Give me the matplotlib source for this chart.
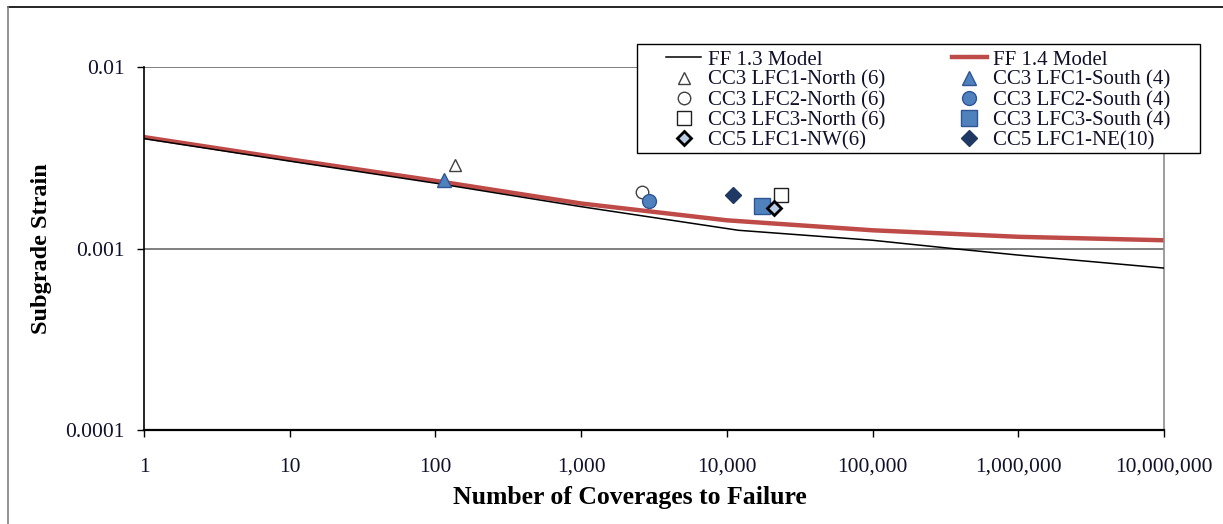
import matplotlib
matplotlib.use("Agg")
import matplotlib.pyplot as plt
from matplotlib.lines import Line2D
from matplotlib.patches import Rectangle
from matplotlib.ticker import FixedLocator, FuncFormatter, NullLocator

plt.rcParams['font.family'] = ['Liberation Serif', 'DejaVu Serif']

# ---- data ----
ff13_x = [1, 10, 100, 1000, 12000, 100000, 350000, 1000000, 10000000]
ff13_y = [0.00403, 0.00303, 0.00229, 0.00170, 0.00126, 0.00111, 0.00100, 0.00092, 0.00078]
ff14_x = [1, 10, 100, 1000, 10000, 100000, 1000000, 10000000]
ff14_y = [0.00411, 0.00310, 0.00236, 0.00177, 0.00143, 0.00126, 0.00116, 0.00111]

pts_labels = ["CC3 LFC1-North (6)", "CC3 LFC1-South (4)",
              "CC3 LFC2-North (6)", "CC3 LFC2-South (4)",
              "CC3 LFC3-North (6)", "CC3 LFC3-South (4)",
              "CC5 LFC1-NW(6)", "CC5 LFC1-NE(10)"]
pts_x = [137, 115, 2630, 2940, 23700, 17300, 20900, 11100]
pts_y = [0.00288, 0.00238, 0.00204, 0.00183, 0.00197, 0.00172, 0.00168, 0.00197]

xticks = [1, 10, 100, 1000, 10000, 100000, 1000000, 10000000]
yticks = [0.0001, 0.001, 0.01]

W, H = 1223, 524
fig = plt.figure(figsize=(W / 100, H / 100), dpi=100)
ax = fig.add_axes([144 / W, 1 - 430 / H, (1164 - 144) / W, (430 - 67) / H])

blue = '#4F81BD'
styles = [
    dict(marker='^', mfc='white', mec='#404040', ms=9, mew=1.0),
    dict(marker='^', mfc=blue, mec='#2F5597', ms=10, mew=1.0),
    dict(marker='o', mfc='white', mec='#404040', ms=9, mew=1.0),
    dict(marker='o', mfc=blue, mec='#2F5597', ms=10, mew=1.0),
    dict(marker='s', mfc='white', mec='#202020', ms=10, mew=1.0),
    dict(marker='s', mfc=blue, mec='#2F5597', ms=11, mew=1.0),
    dict(marker='D', mfc='#B9CDE5', mec='black', ms=7.5, mew=2.0),
    dict(marker='D', mfc='#1F3864', mec='#1F3864', ms=8, mew=1.0),
]

l13, = ax.plot(ff13_x, ff13_y, color='black', lw=1.1, label='FF 1.3 Model', zorder=3)
l14, = ax.plot(ff14_x, ff14_y, color='#BE4B48', lw=3.2, label='FF 1.4 Model', zorder=2)
handles = {}
for lab, x, y, st in zip(pts_labels, pts_x, pts_y, styles):
    h, = ax.plot([x], [y], linestyle='none', label=lab, zorder=4, **st)
    handles[lab] = h

ax.set_xscale('log')
ax.set_yscale('log')
ax.set_xlim(1, 10000000)
ax.set_ylim(0.0001, 0.01)

ax.xaxis.set_major_locator(FixedLocator(xticks))
ax.yaxis.set_major_locator(FixedLocator(yticks))
ax.xaxis.set_minor_locator(NullLocator())
ax.yaxis.set_minor_locator(NullLocator())
ax.xaxis.set_major_formatter(FuncFormatter(lambda v, p: f"{int(round(v)):,}"))
ax.yaxis.set_major_formatter(FuncFormatter(lambda v, p: f"{v:g}"))

ax.tick_params(axis='x', direction='out', length=5, width=1, pad=15,
               labelsize=15.5, labelcolor='#10102a')
ax.tick_params(axis='y', direction='out', length=5, width=1, pad=9,
               labelsize=15.5, labelcolor='#10102a')

ax.grid(True, axis='y', which='major', color='#7f7f7f', lw=1.4, zorder=0)
ax.spines['top'].set_visible(False)
ax.spines['right'].set_color('#8c8c8c')
ax.spines['right'].set_linewidth(1.2)
ax.spines['left'].set_color('black')
ax.spines['left'].set_linewidth(1.2)
ax.spines['bottom'].set_color('black')
ax.spines['bottom'].set_linewidth(1.6)

ax.set_xlabel('Number of Coverages to Failure', fontsize=18.5, fontweight='bold')
ax.xaxis.set_label_coords((630 - 144) / (1164 - 144), (430 - 486) / (430 - 67))
ax.set_ylabel('Subgrade Strain', fontsize=17.5, fontweight='bold')
ax.yaxis.set_label_coords((52 - 144) / (1164 - 144), 0.5)

order = [l13] + [handles[pts_labels[i]] for i in (0, 2, 4, 6)] + \
        [l14] + [handles[pts_labels[i]] for i in (1, 3, 5, 7)]
leg = ax.legend(handles=order, labels=[h.get_label() for h in order], ncol=2,
                loc='upper left',
                bbox_to_anchor=((666 - 144) / (1164 - 144), (430 - 50) / (430 - 67)),
                fontsize=15, frameon=False,
                borderpad=0, labelspacing=0.03, columnspacing=3.2,
                handlelength=1.7, handletextpad=0.3, borderaxespad=0)
leg.set_zorder(6)
for t in leg.get_texts():
    t.set_color('#10102a')

# legend frame (drawn in the axes, beneath the legend entries)
ax.add_patch(Rectangle((637 / W, 1 - 153 / H), (1200 - 637) / W, (153 - 44) / H,
                       transform=fig.transFigure, facecolor='white',
                       edgecolor='black', lw=1.0, zorder=5, clip_on=False))

# outer chart frame (top and left visible)
fig.add_artist(Line2D([8 / W, 1.0], [1 - 7 / H, 1 - 7 / H], color='black', lw=1.2,
                      transform=fig.transFigure))
fig.add_artist(Line2D([8 / W, 8 / W], [0, 1 - 7 / H], color='#7f7f7f', lw=1.2,
                      transform=fig.transFigure))

fig.savefig('out.png', dpi=100, facecolor='white')
